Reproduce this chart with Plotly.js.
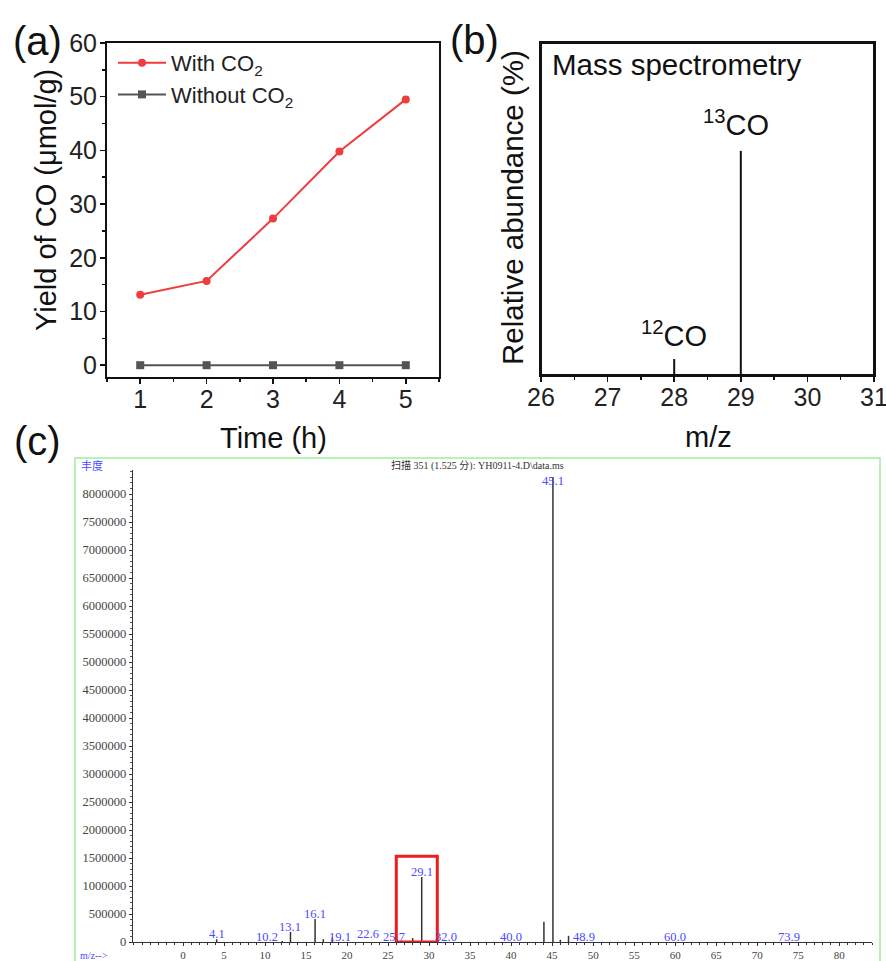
<!DOCTYPE html>
<html><head><meta charset="utf-8">
<script src="https://cdn.plot.ly/plotly-3.0.1.min.js"></script>
<style>html,body{margin:0;padding:0;background:#fff}#chart{width:886px;height:961px}</style>
</head><body><div id="chart"></div>
<script>
// ---- Panel (a) data ----
const hours = [1, 2, 3, 4, 5];
const withCO2 = [13.1, 15.7, 27.3, 39.8, 49.5];
const withoutCO2 = [0, 0, 0, 0, 0];
// ---- Panel (b) data ----
const msMz = [28, 29];
const msAbund = [4.8, 67.5];
const msLabels = ['<sup>12</sup>CO', '<sup>13</sup>CO'];
// ---- Panel (c) data ----
const specMz = [4.1, 12.1, 13.1, 16.1, 17.1, 18.2, 28.0, 29.1, 44.0, 45.1, 46.0, 47.0];
const specAbund = [50000, 20000, 180000, 410000, 50000, 80000, 70000, 1160000, 360000, 8300000, 40000, 110000];
const labelMz = [4.1, 10.2, 13.1, 16.1, 19.1, 22.6, 25.7, 29.1, 32.0, 40.0, 45.1, 48.9, 60.0, 73.9];
const labelText = ['4.1', '10.2', '13.1', '16.1', '19.1', '22.6', '25.7', '29.1', '32.0', '40.0', '45.1', '48.9', '60.0', '73.9'];
const labelY = [143000, 89000, 268000, 500000, 89000, 143000, 89000, 1250000, 89000, 89000, 8230000, 89000, 89000, 89000];
const highlightMz = [26, 31];
const highlightTop = 1530000;
const specXTicks = [0,5,10,15,20,25,30,35,40,45,50,55,60,65,70,75,80];
const specYTicks = [0,500000,1000000,1500000,2000000,2500000,3000000,3500000,4000000,4500000,5000000,5500000,6000000,6500000,7000000,7500000,8000000];

const SANS = 'Liberation Sans, Arial, sans-serif';
const SERIF = 'Liberation Serif, Times New Roman, serif';
const CJK = 'Liberation Serif, Noto Sans CJK SC, serif';

function stems(xs, ys) {
  const X = [], Y = [];
  xs.forEach((m, i) => { X.push(m, m, null); Y.push(0, ys[i], null); });
  return {X, Y};
}
const sb = stems(msMz, msAbund);
const sc = stems(specMz, specAbund);

const traces = [
  {x: hours, y: withCO2, name: 'With CO<sub>2</sub>', type: 'scatter', mode: 'lines+markers',
   line: {color: '#f03c3c', width: 2}, marker: {symbol: 'circle', size: 8, color: '#f03c3c'}, xaxis: 'x', yaxis: 'y'},
  {x: hours, y: withoutCO2, name: 'Without CO<sub>2</sub>', type: 'scatter', mode: 'lines+markers',
   line: {color: '#555555', width: 2}, marker: {symbol: 'square', size: 8, color: '#555555'}, xaxis: 'x', yaxis: 'y'},
  {x: sb.X, y: sb.Y, type: 'scatter', mode: 'lines', line: {color: '#111', width: 2}, showlegend: false,
   hoverinfo: 'skip', xaxis: 'x2', yaxis: 'y2'},
  {x: sc.X, y: sc.Y, type: 'scatter', mode: 'lines', line: {color: '#333', width: 1.5}, showlegend: false,
   hoverinfo: 'skip', xaxis: 'x3', yaxis: 'y3'}
];

const annotations = [];
// panel letters
[['(a)', 37, 41], ['(b)', 474, 40], ['(c)', 37, 441]].forEach(([t, px, py]) => {
  annotations.push({text: t, xref: 'paper', yref: 'paper', x: px / 886, y: 1 - py / 961,
    xanchor: 'center', yanchor: 'middle', showarrow: false, font: {family: SANS, size: 40, color: '#111'}});
});
// axis titles
annotations.push({text: 'Time (h)', xref: 'paper', yref: 'paper', x: 273 / 886, y: 1 - 438 / 961,
  xanchor: 'center', yanchor: 'middle', showarrow: false, font: {family: SANS, size: 29, color: '#111'}});
annotations.push({text: 'Yield of CO (μmol/g)', xref: 'paper', yref: 'paper', x: 46 / 886, y: 1 - 200 / 961,
  textangle: -90, xanchor: 'center', yanchor: 'middle', showarrow: false, font: {family: SANS, size: 29, color: '#111'}});
annotations.push({text: 'Relative abundance (%)', xref: 'paper', yref: 'paper', x: 512 / 886, y: 1 - 207 / 961,
  textangle: -90, xanchor: 'center', yanchor: 'middle', showarrow: false, font: {family: SANS, size: 29.5, color: '#111'}});
annotations.push({text: 'm/z', xref: 'paper', yref: 'paper', x: 708 / 886, y: 1 - 437 / 961,
  xanchor: 'center', yanchor: 'middle', showarrow: false, font: {family: SANS, size: 29, color: '#111'}});
annotations.push({text: 'Mass spectrometry', xref: 'paper', yref: 'paper', x: 550 / 886, y: 1 - 65 / 961,
  xanchor: 'left', yanchor: 'middle', showarrow: false, font: {family: SANS, size: 29.5, color: '#111'}});
// panel (b) peak labels
msMz.forEach((m, i) => {
  annotations.push({text: msLabels[i], xref: 'x2', yref: 'y2', x: m, y: msAbund[i], yshift: 5 + 3 * i, xshift: -5 * i,
    xanchor: 'center', yanchor: 'bottom', showarrow: false, font: {family: SANS, size: 29, color: '#111'}});
});
// panel (c) peak labels
labelMz.forEach((m, i) => {
  annotations.push({text: labelText[i], xref: 'x3', yref: 'y3', x: m, y: labelY[i],
    xanchor: 'center', yanchor: 'middle', showarrow: false, font: {family: SERIF, size: 12.5, color: '#4a4aff'}});
});
// panel (c) header texts
annotations.push({text: '扫描 351 (1.525 分): YH0911-4.D\\data.ms', xref: 'paper', yref: 'paper', x: 478 / 886, y: 1 - 466 / 961,
  xanchor: 'center', yanchor: 'middle', showarrow: false, font: {family: CJK, size: 10, color: '#333'}});
annotations.push({text: '丰度', xref: 'paper', yref: 'paper', x: 79 / 886, y: 1 - 466 / 961,
  xanchor: 'left', yanchor: 'middle', showarrow: false, font: {family: CJK, size: 11, color: '#4a4aff'}});
annotations.push({text: 'm/z-->', xref: 'paper', yref: 'paper', x: 78 / 886, y: 1 - 955 / 961,
  xanchor: 'left', yanchor: 'middle', showarrow: false, font: {family: SERIF, size: 10, color: '#4a4aff'}});

const shapes = [
  {type: 'rect', xref: 'x3', yref: 'y3', x0: highlightMz[0], x1: highlightMz[1], y0: 0, y1: highlightTop,
   line: {color: '#ee1c1c', width: 3}, fillcolor: 'rgba(0,0,0,0)'},
  {type: 'rect', xref: 'paper', yref: 'paper', x0: 75 / 886, x1: 880 / 886, y0: -0.05, y1: 1 - 458 / 961,
   line: {color: '#9cf09c', width: 1.5}, fillcolor: 'rgba(0,0,0,0)', layer: 'below'},
  {type: 'rect', xref: 'x2 domain', yref: 'y2 domain', x0: 0, x1: 1, y0: 0, y1: 1,
   line: {color: '#111', width: 2}, fillcolor: 'rgba(0,0,0,0)'}
];

const axA = {showgrid: false, zeroline: false, showline: true, linecolor: '#111', linewidth: 2, mirror: true,
  ticks: 'outside', ticklen: 5, tickwidth: 1.5, tickcolor: '#111', ticklabeloverflow: 'allow',
  tickfont: {family: SANS, size: 25, color: '#222'}};

const layout = {
  width: 886, height: 961, margin: {l: 0, r: 0, t: 0, b: 0},
  paper_bgcolor: '#fff', plot_bgcolor: 'rgba(0,0,0,0)',
  showlegend: true,
  legend: {x: 113 / 886, y: 1 - 42 / 961, xanchor: 'left', yanchor: 'top', bgcolor: 'rgba(0,0,0,0)',
    font: {family: SANS, size: 22, color: '#222'}, itemwidth: 48, tracegroupgap: 0},
  xaxis: Object.assign({}, axA, {domain: [107 / 886, 439 / 886], range: [0.5, 5.5], tickvals: hours, anchor: 'y',
    ticklabelstandoff: -6,
    minor: {dtick: 0.5, tick0: 0.5, ticks: 'outside', ticklen: 3, tickcolor: '#111'}}),
  yaxis: Object.assign({}, axA, {domain: [1 - 377 / 961, 1 - 43 / 961], range: [-2.2, 60], tickvals: [0, 10, 20, 30, 40, 50, 60], anchor: 'x',
    ticklabelstandoff: -2, minor: {dtick: 5, tick0: 0, ticks: 'outside', ticklen: 3, tickcolor: '#111'}}),
  xaxis2: Object.assign({}, axA, {domain: [541 / 886, 874 / 886], range: [26, 31], tickvals: [26, 27, 28, 29, 30, 31], anchor: 'y2',
    ticklabelstandoff: -6,
    minor: {dtick: 0.5, tick0: 26, ticks: 'outside', ticklen: 3, tickcolor: '#111'}}),
  yaxis2: Object.assign({}, axA, {domain: [1 - 375 / 961, 1 - 43 / 961], range: [0, 100], anchor: 'x2',
    ticks: '', showticklabels: false}),
  xaxis3: {domain: [133 / 886, 872 / 886], range: [-6.1, 84], anchor: 'y3', showgrid: false, zeroline: false,
    showline: true, linecolor: '#333', linewidth: 1, ticks: 'outside', ticklen: 3, tickcolor: '#333',
    tickvals: specXTicks, tickfont: {family: SERIF, size: 11, color: '#444'},
    minor: {dtick: 1, tick0: 0, ticks: 'outside', ticklen: 2, tickcolor: '#333'}},
  yaxis3: {domain: [1 - 942 / 961, 1 - 470 / 961], range: [0, 8430000], anchor: 'x3', showgrid: false, zeroline: false,
    showline: true, linecolor: '#333', linewidth: 1.2, ticks: 'outside', ticklen: 3, tickcolor: '#333',
    tickvals: specYTicks, tickformat: 'd', tickfont: {family: SERIF, size: 12.5, color: '#444'},
    minor: {dtick: 100000, tick0: 0, ticks: 'outside', ticklen: 2, tickcolor: '#555'}},
  annotations: annotations,
  shapes: shapes
};

Plotly.newPlot('chart', traces, layout, {staticPlot: true, displayModeBar: false});
</script></body></html>
